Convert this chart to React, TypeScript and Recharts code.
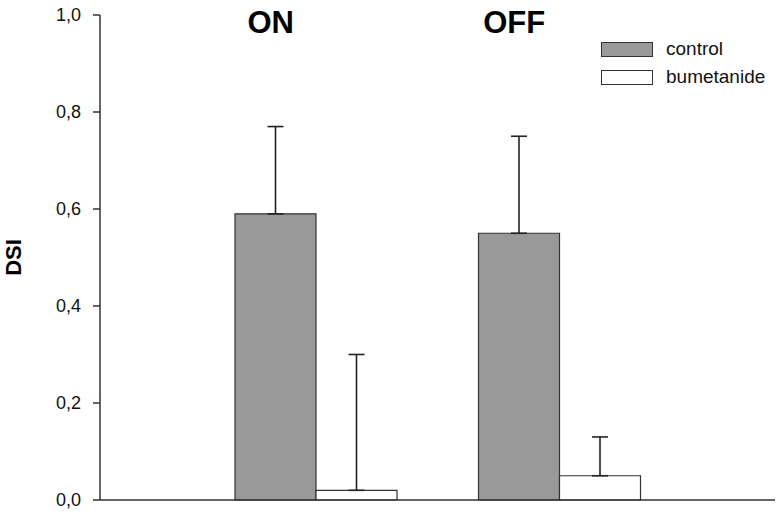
import React from "react";
import { BarChart, Bar, XAxis, YAxis, ErrorBar } from "recharts";

const categories = ["ON", "OFF"];
const control = [0.59, 0.55];
const controlErr = [0.18, 0.2];
const bumetanide = [0.02, 0.05];
const bumetanideErr = [0.28, 0.08];
const yTicks = [0, 0.2, 0.4, 0.6, 0.8, 1.0];
const legendItems = [
  { name: "control", fill: "#999999" },
  { name: "bumetanide", fill: "#ffffff" },
];

const data = categories.map((c, i) => ({
  cond: c,
  control: control[i],
  controlErr: controlErr[i],
  bumetanide: bumetanide[i],
  bumetanideErr: bumetanideErr[i],
}));

const FONT = "'Liberation Sans', Arial, sans-serif";

const TopTick = (props: any) => {
  const { x, payload } = props;
  return (
    <text x={x - 45} y={33} textAnchor="middle" fontFamily={FONT} fontWeight="bold" fontSize={31} fill="#000">
      {payload.value}
    </text>
  );
};

const LegendBox = () => (
  <div style={{ position: "absolute", left: 601, top: 35, fontFamily: FONT, fontSize: 19, color: "#111" }}>
    {legendItems.map((it) => (
      <div key={it.name} style={{ display: "flex", alignItems: "center", height: 28 }}>
        <div style={{ width: 50, height: 13, background: it.fill, border: "1px solid #333", marginRight: 13 }} />
        <span>{it.name}</span>
      </div>
    ))}
  </div>
);

export default function App() {
  return (
    <div style={{ position: "absolute", left: 0, top: 0, width: 782, height: 519, background: "#fff" }}>
      <BarChart
        width={782}
        height={519}
        data={data}
        margin={{ top: 14, right: 7, left: 0, bottom: 18 }}
        barGap={0}
        barSize={81}
      >
        <XAxis
          dataKey="cond"
          height={1}
          tick={false}
          tickLine={false}
          padding={{ left: 94, right: 94 }}
          axisLine={{ stroke: "#333", strokeWidth: 1.5 }}
        />
        <XAxis
          xAxisId="top"
          dataKey="cond"
          orientation="top"
          height={1}
          axisLine={false}
          tickLine={false}
          tick={<TopTick />}
          padding={{ left: 94, right: 94 }}
        />
        <YAxis
          domain={[0, 1]}
          ticks={yTicks}
          width={100}
          tickSize={7}
          tickMargin={12}
          axisLine={{ stroke: "#333", strokeWidth: 1.5 }}
          tickLine={{ stroke: "#333", strokeWidth: 1.5 }}
          tick={{ fontFamily: FONT, fontSize: 18, fill: "#111" }}
          tickFormatter={(v: number) => v.toFixed(1).replace(".", ",")}
          label={{
            content: (p: any) => {
              const vb = p.viewBox || { x: 0, y: 15, height: 485 };
              const cx = 13;
              const cy = vb.y + vb.height / 2;
              return (
                <text
                  x={cx}
                  y={cy}
                  transform={`rotate(-90 ${cx} ${cy})`}
                  textAnchor="middle"
                  dominantBaseline="central"
                  fontFamily={FONT}
                  fontWeight="bold"
                  fontSize={22}
                  fill="#000"
                >
                  DSI
                </text>
              );
            },
          }}
        />
        <Bar dataKey="control" fill="#999999" stroke="#333" strokeWidth={1.2} isAnimationActive={false}>
          <ErrorBar
            dataKey={(d: any) => [0, d.controlErr]}
            width={8}
            stroke="#222"
            strokeWidth={1.6}
            direction="y"
          />
        </Bar>
        <Bar dataKey="bumetanide" fill="#ffffff" stroke="#333" strokeWidth={1.2} isAnimationActive={false}>
          <ErrorBar
            dataKey={(d: any) => [0, d.bumetanideErr]}
            width={8}
            stroke="#222"
            strokeWidth={1.6}
            direction="y"
          />
        </Bar>
      </BarChart>
      <LegendBox />
    </div>
  );
}
